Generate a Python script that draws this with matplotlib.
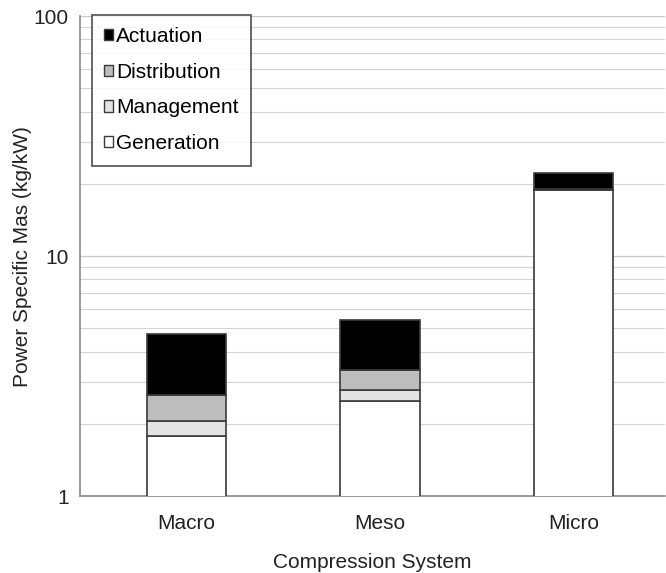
import matplotlib
matplotlib.use("Agg")
import matplotlib.pyplot as plt
from matplotlib.patches import Patch
import numpy as np

systems = ["Macro", "Meso", "Micro"]
generation = [1.78, 2.49, 18.8]
management = [0.28, 0.27, 0.15]
distribution = [0.58, 0.59, 0.15]
actuation = [2.09, 2.06, 3.0]

layers = [
    ("Generation", generation, "#ffffff"),
    ("Management", management, "#e4e4e4"),
    ("Distribution", distribution, "#bdbdbd"),
    ("Actuation", actuation, "#000000"),
]

plt.rcParams["font.family"] = ["Liberation Sans", "DejaVu Sans"]
FS = 15

fig = plt.figure(figsize=(6.66, 5.73), dpi=100)
ax = fig.add_axes([0.120, 0.134, 0.878, 0.838])

x = np.arange(len(systems))
width = 0.41
bottom = np.zeros(len(systems))
for name, vals, color in layers:
    vals = np.array(vals)
    ax.bar(x, vals, width, bottom=bottom, color=color, edgecolor="#3a3a3a",
           linewidth=1.2, zorder=3, label=name)
    bottom = bottom + vals

ax.set_yscale("log")
ax.set_ylim(1, 100)
ax.set_xlim(-0.55, 2.47)
ax.set_xticks(x)
ax.set_xticklabels(systems, fontsize=FS, color="#222222")
ax.set_yticks([1, 10, 100])
ax.set_yticklabels(["1", "10", "100"], fontsize=FS, color="#222222")
ax.yaxis.set_minor_formatter(matplotlib.ticker.NullFormatter())
ax.tick_params(axis="y", which="both", length=0, pad=8)
ax.tick_params(axis="x", length=0, pad=13)

ax.grid(True, which="major", axis="y", color="#c8c8c8", linewidth=0.9, zorder=0)
ax.grid(True, which="minor", axis="y", color="#d4d4d4", linewidth=0.8, zorder=0)

for s in ["top", "right"]:
    ax.spines[s].set_visible(False)
ax.spines["left"].set_color("#8a8a8a")
ax.spines["bottom"].set_color("#8a8a8a")
ax.spines["left"].set_linewidth(1.2)
ax.spines["bottom"].set_linewidth(1.2)

ax.set_xlabel("Compression System", fontsize=FS, labelpad=14, color="#222222")
ax.set_ylabel("Power Specific Mas (kg/kW)", fontsize=FS, labelpad=1, color="#222222")

handles = [Patch(facecolor=c, edgecolor="#3a3a3a", linewidth=1.0, label=n)
           for n, _, c in reversed(layers)]
leg = ax.legend(handles=handles, loc="upper left", bbox_to_anchor=(0.02, 1.003),
                fontsize=FS, frameon=True, fancybox=False, handlelength=0.45,
                handleheight=0.45, handletextpad=0.12, labelspacing=0.8,
                borderpad=0.6, borderaxespad=0)
leg.get_frame().set_edgecolor("#222222")
leg.get_frame().set_linewidth(1.2)
leg.set_zorder(5)

fig.savefig("out.png", dpi=100)
